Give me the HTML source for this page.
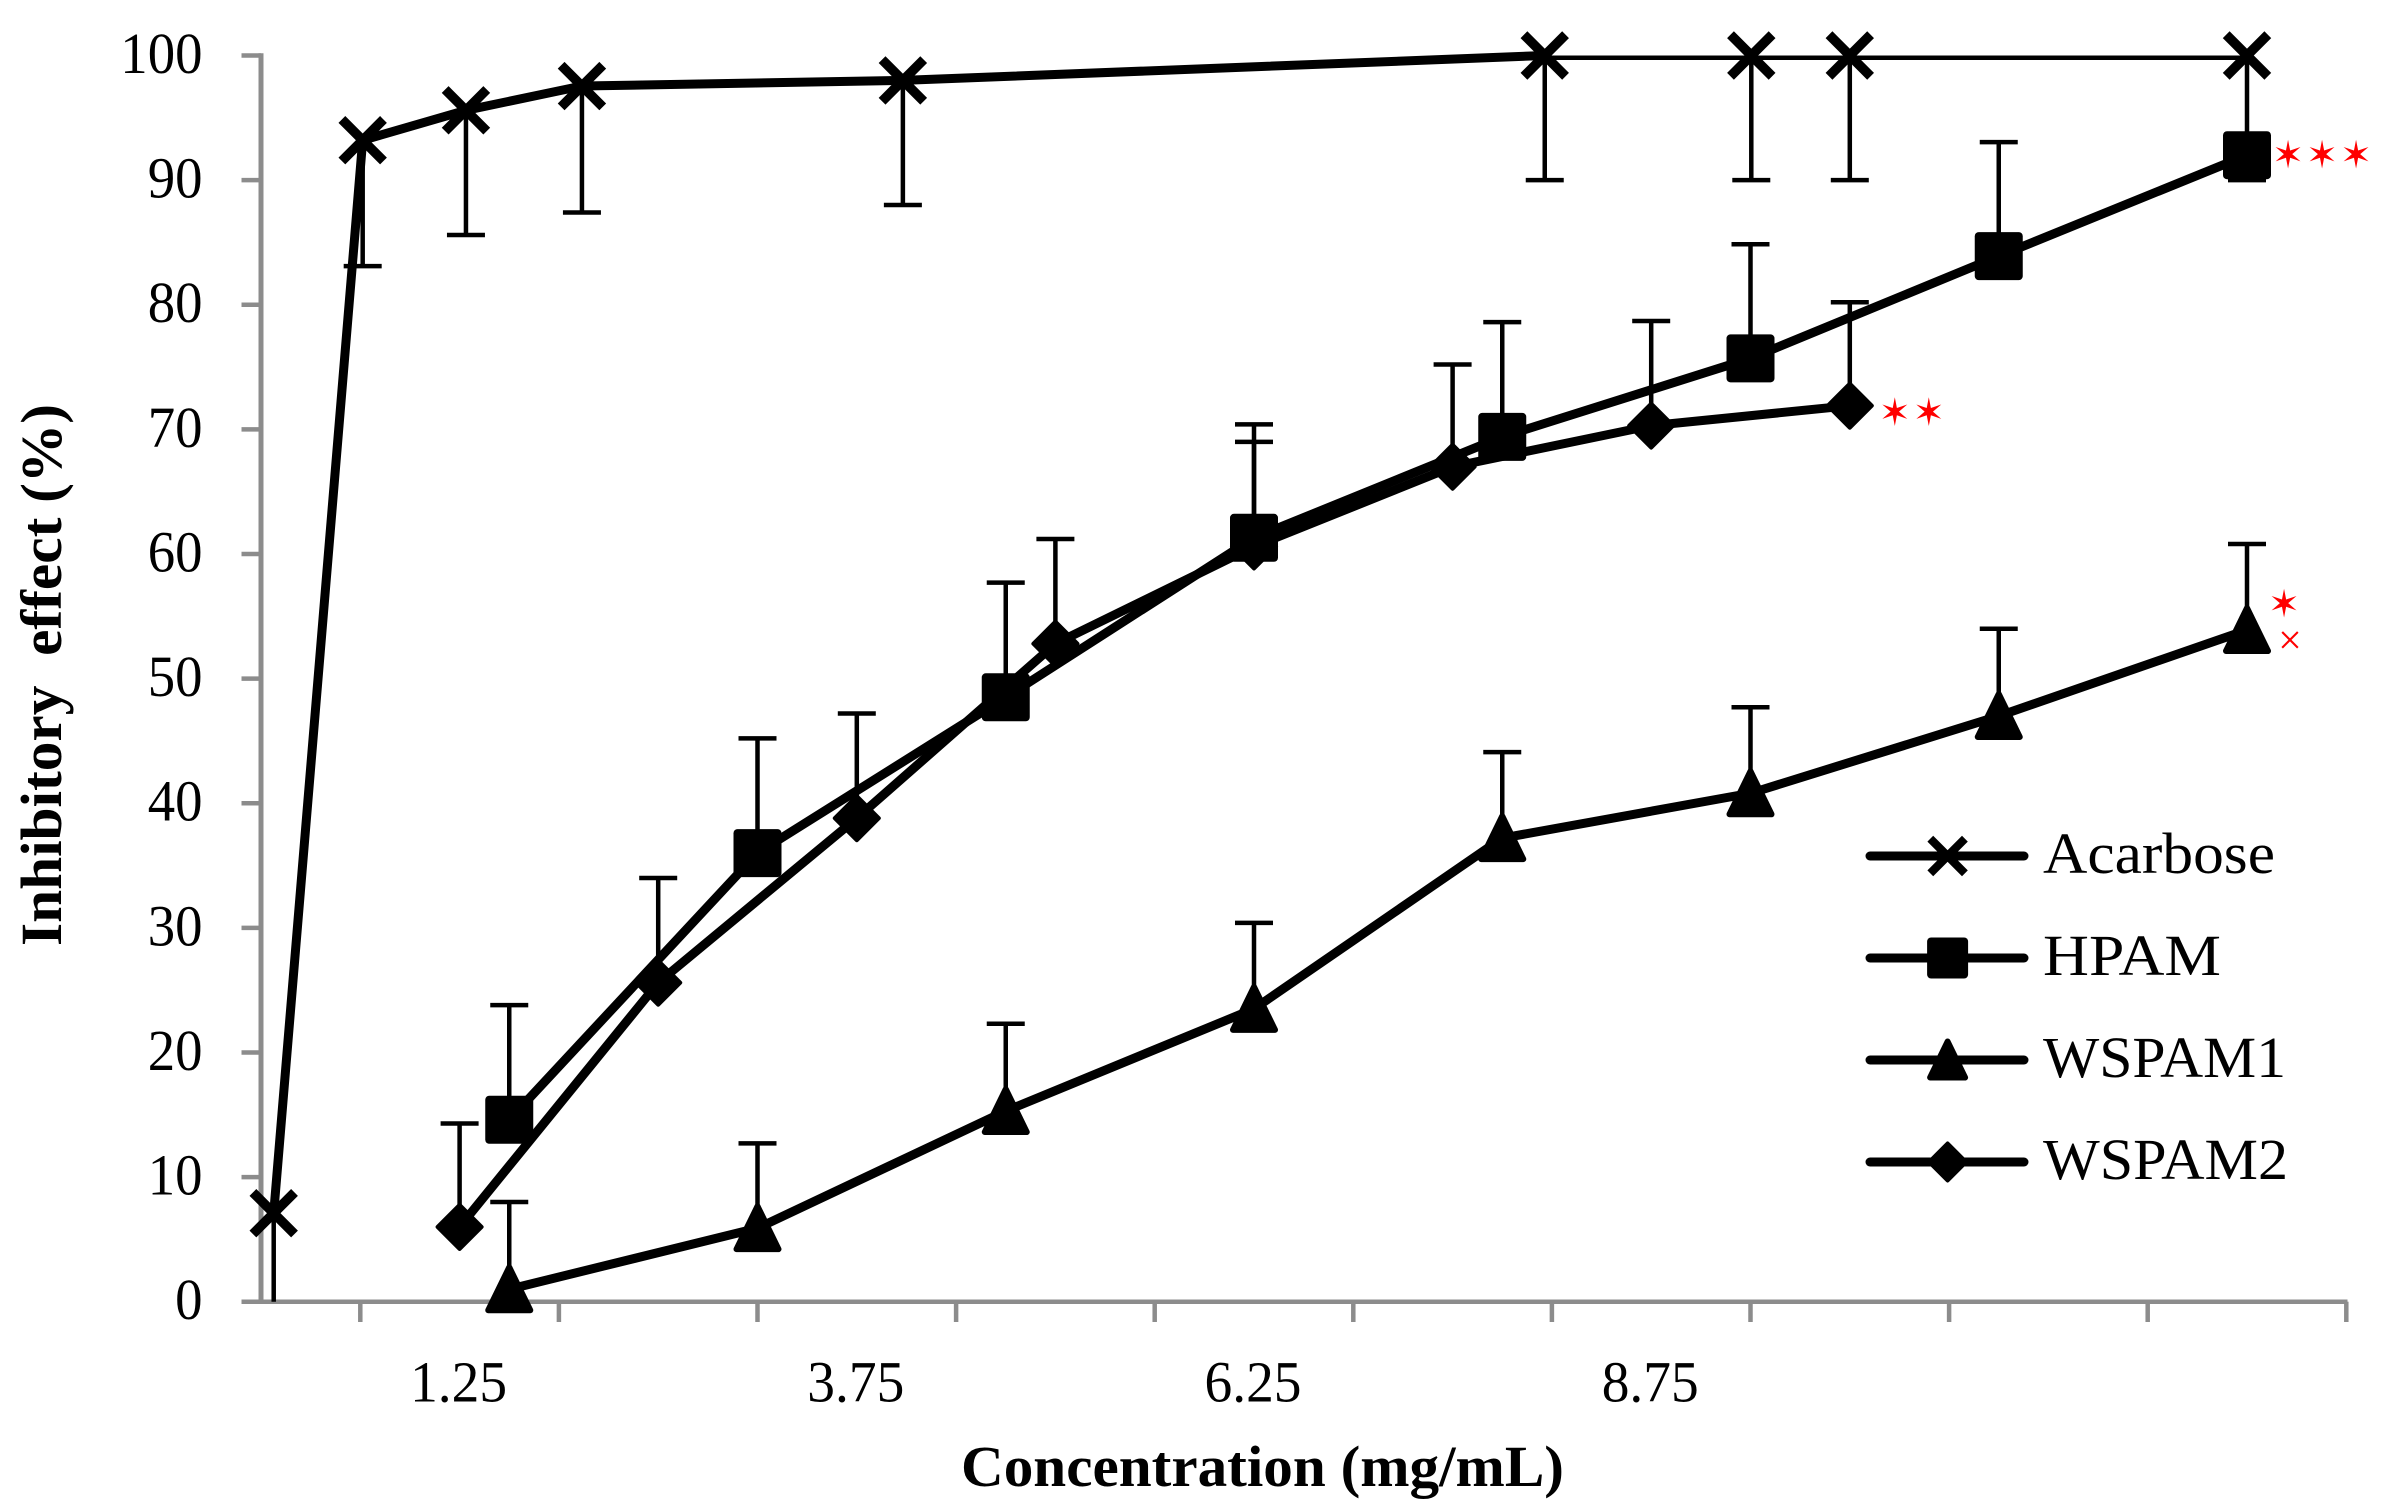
<!DOCTYPE html>
<html lang="en">
<head>
<meta charset="utf-8">
<title>Inhibitory effect vs concentration</title>
<style>
  html, body { margin: 0; padding: 0; background: #fff; }
  svg { display: block; }
  text { font-family: "Liberation Serif", serif; fill: #000; }
</style>
</head>
<body>
<svg id="chart" xmlns="http://www.w3.org/2000/svg" width="2386" height="1511" viewBox="0 0 2386 1511">
  <rect x="0" y="0" width="2386" height="1511" fill="#fff"/>
  <defs>
    <clipPath id="plot-clip"><rect x="261" y="55.5" width="2085" height="1246.2"/><rect id="plot-clip-head" x="261" y="48" width="1283" height="20"/></clipPath>
  </defs>
  <g id="axes"></g>
  <g id="series"></g>
  <text x="961" y="1486" font-size="58" font-weight="bold" textLength="603" lengthAdjust="spacingAndGlyphs">Concentration (mg/mL)</text>
  <text transform="translate(61,946) rotate(-90)" x="0" y="0" font-size="58" font-weight="bold" textLength="542" lengthAdjust="spacingAndGlyphs">Inhibitory&#160;&#160;effect (%)</text>
  <g id="legend">
    <g>
      <line x1="1870" x2="2024" y1="856" y2="856" stroke="#000" stroke-width="9" stroke-linecap="round"/>
      <text x="2043" y="873" font-size="58" textLength="232" lengthAdjust="spacingAndGlyphs">Acarbose</text>
    </g>
    <g>
      <line x1="1870" x2="2024" y1="958" y2="958" stroke="#000" stroke-width="9" stroke-linecap="round"/>
      <text x="2043" y="975" font-size="58" textLength="178" lengthAdjust="spacingAndGlyphs">HPAM</text>
    </g>
    <g>
      <line x1="1870" x2="2024" y1="1060" y2="1060" stroke="#000" stroke-width="9" stroke-linecap="round"/>
      <text x="2043" y="1077" font-size="58" textLength="243" lengthAdjust="spacingAndGlyphs">WSPAM1</text>
    </g>
    <g>
      <line x1="1870" x2="2024" y1="1162" y2="1162" stroke="#000" stroke-width="9" stroke-linecap="round"/>
      <text x="2043" y="1179" font-size="58" textLength="245" lengthAdjust="spacingAndGlyphs">WSPAM2</text>
    </g>
  </g>
</svg>
<script>
// ---- Chart data ----
const yTickValues = [0, 10, 20, 30, 40, 50, 60, 70, 80, 90, 100];
const xTickValues = [0.625, 1.875, 3.125, 4.375, 5.625, 6.875, 8.125, 9.375, 10.625, 11.875, 13.125];
const xLabelValues = [1.25, 3.75, 6.25, 8.75];
const xLabelTexts = ['1.25', '3.75', '6.25', '8.75'];

const acarboseX = [0.08, 0.64, 1.29, 2.02, 4.04, 8.08, 9.38, 10, 12.5];
const acarboseY = [7.1, 93.2, 95.6, 97.55, 98, 100, 100, 100, 100];
const acarboseErrEnd = [-2.9, 83.1, 85.6, 87.4, 88, 90, 90, 90, 90];

const hpamX = [1.5625, 3.125, 4.6875, 6.25, 7.8125, 9.375, 10.9375, 12.5];
const hpamY = [14.6, 36, 48.5, 61.3, 69.4, 75.7, 83.9, 92];
const hpamErrEnd = [23.8, 45.2, 57.7, 70.4, 78.6, 84.85, 93.05, 92];

const wspam1X = [1.5625, 3.125, 4.6875, 6.25, 7.8125, 9.375, 10.9375, 12.5];
const wspam1Y = [1, 5.9, 15.3, 23.5, 37.2, 40.8, 47, 53.9];
const wspam1ErrEnd = [8, 12.7, 22.3, 30.4, 44.1, 47.7, 54, 60.8];

const wspam2X = [1.25, 2.5, 3.75, 5, 6.25, 7.5, 8.75, 10];
const wspam2Y = [6, 25.6, 38.8, 52.8, 60.6, 67, 70.3, 71.9];
const wspam2ErrEnd = [14.3, 34, 47.2, 61.2, 69, 75.2, 78.7, 80.2];

// ---- Axis functions ----
function xPos(v) { return 261 + 158.88 * v; }
function yPos(v) { return 1301.7 - 12.462 * v; }

const NS = 'http://www.w3.org/2000/svg';
function make(tag, attrs, parent) {
  const el = document.createElementNS(NS, tag);
  for (const k in attrs) el.setAttribute(k, attrs[k]);
  parent.appendChild(el);
  return el;
}

// ---- Axes ----
const axes = document.getElementById('axes');
const AXIS = '#8c8c8c';
const yAxisLine = make('line', { x1: 261, x2: 261, y1: 53.2, y2: 1304, stroke: AXIS, 'stroke-width': 5 }, axes);


const xAxisLine = make('line', { x1: 241.5, x2: 2347.5, y1: 1301.7, y2: 1301.7, stroke: AXIS, 'stroke-width': 4.5 }, axes);



yTickValues.forEach(function (v) {
  const tick = make('line', { x1: 241.5, x2: 261, y1: yPos(v), y2: yPos(v), stroke: AXIS, 'stroke-width': 4.5 }, axes);
  
  
  const s = String(v);
  const label = make('text', { x: 202.5, y: yPos(v) + 17.5, 'font-size': 58, 'text-anchor': 'end', textLength: 27.4 * s.length, lengthAdjust: 'spacingAndGlyphs' }, axes);
  label.textContent = s;
  
  
});

xTickValues.forEach(function (v) {
  const tick = make('line', { x1: xPos(v), x2: xPos(v), y1: 1301.7, y2: 1322, stroke: AXIS, 'stroke-width': 4.5 }, axes);
  
  
});

xLabelValues.forEach(function (v, i) {
  const label = make('text', { x: xPos(v) - 1, y: 1401.7, 'font-size': 58, 'text-anchor': 'middle', textLength: 97, lengthAdjust: 'spacingAndGlyphs' }, axes);
  label.textContent = xLabelTexts[i];
  
  
});

// ---- Markers ----
function drawMarker(kind, cx, cy, size, parent) {
  const r = size / 2;
  let m;
  if (kind === 'x') {
    const a = r - 3.2;
    m = make('path', { d: 'M' + (cx - a) + ' ' + (cy - a) + 'L' + (cx + a) + ' ' + (cy + a) + 'M' + (cx - a) + ' ' + (cy + a) + 'L' + (cx + a) + ' ' + (cy - a), stroke: '#000', 'stroke-width': size * 0.2, fill: 'none' }, parent);
  } else if (kind === 'square') {
    m = make('rect', { x: cx - r, y: cy - r, width: size, height: size, rx: 4, fill: '#000' }, parent);
  } else if (kind === 'triangle') {
    const i = r - 3;
    m = make('polygon', { points: cx + ',' + (cy - i - 1) + ' ' + (cx + i) + ',' + (cy + i) + ' ' + (cx - i) + ',' + (cy + i), fill: '#000', stroke: '#000', 'stroke-width': 6, 'stroke-linejoin': 'round' }, parent);
  } else {
    const i = r - 2;
    m = make('polygon', { points: cx + ',' + (cy - i) + ' ' + (cx + i) + ',' + cy + ' ' + cx + ',' + (cy + i) + ' ' + (cx - i) + ',' + cy, fill: '#000', stroke: '#000', 'stroke-width': 4, 'stroke-linejoin': 'round' }, parent);
  }
  return m;
}

// ---- Series ----
const seriesLayer = document.getElementById('series');
function drawSeries(name, kind, xs, ys, errEnds) {
  const g = make('g', {}, seriesLayer);
  
  
  const clipped = make('g', { 'clip-path': 'url(#plot-clip)' }, g);
  xs.forEach(function (x, i) {
    const px = xPos(x), y0 = yPos(ys[i]), y1 = yPos(errEnds[i]);
    const stem = make('line', { x1: px, x2: px, y1: y0, y2: y1, stroke: '#000', 'stroke-width': 4.5 }, clipped);
    
    
    const cap = make('line', { x1: px - 19, x2: px + 19, y1: y1, y2: y1, stroke: '#000', 'stroke-width': 4.5 }, clipped);
    
    
  });
  const pts = xs.map(function (x, i) { return xPos(x) + ',' + yPos(ys[i]); }).join(' ');
  const line = make('polyline', { points: pts, fill: 'none', stroke: '#000', 'stroke-width': 9, 'stroke-linejoin': 'round', 'stroke-linecap': 'round' }, clipped);
  
  
  xs.forEach(function (x, i) {
    const mk = drawMarker(kind, xPos(x), yPos(ys[i]), 48, g);
    
    
  });
}
drawSeries('wspam1', 'triangle', wspam1X, wspam1Y, wspam1ErrEnd);
drawSeries('wspam2', 'diamond', wspam2X, wspam2Y, wspam2ErrEnd);
drawSeries('acarbose', 'x', acarboseX, acarboseY, acarboseErrEnd);
drawSeries('hpam', 'square', hpamX, hpamY, hpamErrEnd);

// ---- Significance marks, anchored to each series' last point ----
function drawStar(cx, cy, parent) {
  const t = make('text', { x: cx, y: cy + 13, 'font-size': 38, 'text-anchor': 'middle', style: 'font-family:"DejaVu Sans",sans-serif;fill:#ff0000' }, parent);
  t.textContent = '\u2736';
  
  
}
const hx = xPos(hpamX[hpamX.length - 1]), hy = yPos(hpamY[hpamY.length - 1]);
drawStar(hx + 41, hy, seriesLayer);
drawStar(hx + 75, hy, seriesLayer);
drawStar(hx + 109, hy, seriesLayer);
const dx = xPos(wspam2X[wspam2X.length - 1]), dy = yPos(wspam2Y[wspam2Y.length - 1]);
drawStar(dx + 45, dy + 7, seriesLayer);
drawStar(dx + 79, dy + 7, seriesLayer);
const tx = xPos(wspam1X[wspam1X.length - 1]), ty = yPos(wspam1Y[wspam1Y.length - 1]);
drawStar(tx + 37, ty - 26, seriesLayer);
const partial = make('text', { x: tx + 43, y: ty + 24, 'font-size': 42, 'text-anchor': 'middle', style: 'fill:#ff0000' }, seriesLayer);
partial.textContent = '\u00d7';



// ---- Legend markers ----
const legendRows = [['x', 856], ['square', 958], ['triangle', 1060], ['diamond', 1162]];
const legendGroups = document.getElementById('legend').children;
legendRows.forEach(function (row, i) {
  const lm = drawMarker(row[0], 1947.6, row[1], 41, legendGroups[i]);
  
  
});
</script>
</body>
</html>
